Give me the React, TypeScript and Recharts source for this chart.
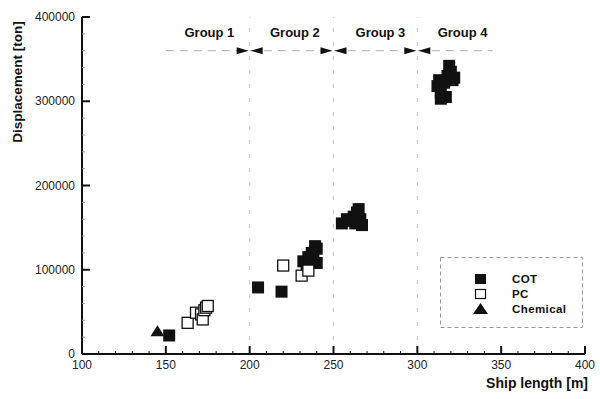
import { ScatterChart, Scatter, XAxis, YAxis, ReferenceLine, ReferenceDot } from "recharts";

const xTicks = [100, 150, 200, 250, 300, 350, 400];
const yTicks = [0, 100000, 200000, 300000, 400000];
const groupBounds = [200, 250, 300];
const groupNames = ["Group 1", "Group 2", "Group 3", "Group 4"];
const groupCenters = [176, 227, 278, 327];

// COT (crude oil tankers)
const cotLength = [152, 205, 219, 232, 234, 235, 236, 237, 238, 239, 240, 240, 255, 258, 260, 262, 263, 264, 265, 266, 267, 312, 313, 314, 316, 317, 318, 319, 320, 321, 322, 314];
const cotDisp = [22000, 79000, 74000, 110000, 104000, 115000, 108000, 120000, 112000, 128000, 125000, 108000, 155000, 160000, 158000, 163000, 155000, 168000, 172000, 160000, 153000, 318000, 325000, 310000, 322000, 305000, 330000, 342000, 335000, 325000, 328000, 303000];

// PC (product carriers)
const pcLength = [163, 168, 171, 172, 173, 174, 175, 220, 231, 235];
const pcDisp = [37000, 49000, 47000, 41000, 52000, 55000, 57000, 105000, 93000, 99000];

// Chemical tankers
const chemLength = [145];
const chemDisp = [27000];

const toPoints = (xs: number[], ys: number[]) => xs.map((x, i) => ({ x, y: ys[i] }));
const cotData = toPoints(cotLength, cotDisp);
const pcData = toPoints(pcLength, pcDisp);
const chemData = toPoints(chemLength, chemDisp);

const font = "'Liberation Sans', Arial, sans-serif";
const xMinor: number[] = [];
for (let v = 100; v <= 400; v += 10) xMinor.push(v);
const yMinor: number[] = [];
for (let v = 0; v <= 400000; v += 20000) yMinor.push(v);

const XTick = (props: any) => {
  const { x, y, payload } = props;
  const major = xTicks.includes(payload.value);
  return (
    <g>
      <line x1={x} x2={x} y1={y} y2={y - (major ? 8 : 3)} stroke="#111" strokeWidth={major ? 2 : 1} />
      {major && (
        <text x={x} y={y + 15} textAnchor="middle" fontSize={12} fill="#222" fontFamily={font}>
          {payload.value}
        </text>
      )}
    </g>
  );
};

const YTick = (props: any) => {
  const { x, y, payload } = props;
  const major = yTicks.includes(payload.value);
  return (
    <g>
      <line x1={x} x2={x + (major ? 8 : 3)} y1={y} y2={y} stroke={major ? "#111" : "#999"} strokeWidth={major ? 2 : 1} />
      {major && (
        <text x={x - 7} y={y + 4} textAnchor="end" fontSize={12} fill="#222" fontFamily={font}>
          {payload.value}
        </text>
      )}
    </g>
  );
};

const Square = (props: any) => (
  <rect x={props.cx - 6} y={props.cy - 6} width={12} height={12} fill="#111" />
);
const OpenSquare = (props: any) => (
  <rect x={props.cx - 5.5} y={props.cy - 5.5} width={11} height={11} fill="#fff" stroke="#111" strokeWidth={1.3} />
);
const Triangle = (props: any) => (
  <path d={`M${props.cx - 7},${props.cy + 5} L${props.cx},${props.cy - 6} L${props.cx + 7},${props.cy + 5} Z`} fill="#111" />
);

const Arrows = (props: any) => {
  const { cx, cy } = props;
  return (
    <g fill="#111">
      <path d={`M${cx - 13},${cy - 3.5} L${cx - 1},${cy} L${cx - 13},${cy + 3.5} Z`} />
      <path d={`M${cx + 13},${cy - 3.5} L${cx + 1},${cy} L${cx + 13},${cy + 3.5} Z`} />
    </g>
  );
};

const legendItems = [
  { name: "COT", shape: "filled" },
  { name: "PC", shape: "open" },
  { name: "Chemical", shape: "triangle" },
];

export default function App() {
  return (
    <div style={{ position: "absolute", left: 0, top: 0, width: 600, height: 399, background: "#fff", fontFamily: font }}>
      <ScatterChart width={600} height={399} margin={{ top: 17, right: 15, bottom: 0, left: 0 }}>
        <XAxis
          type="number"
          dataKey="x"
          domain={[100, 400]}
          ticks={xMinor}
          interval={0}
          tick={XTick}
          tickLine={false}
          tickSize={0}
          tickMargin={0}
          height={45}
          axisLine={{ stroke: "#111", strokeWidth: 2 }}
          label={{
            content: () => (
              <text x={588} y={388} textAnchor="end" fontSize={14} fontWeight="bold" fill="#111" fontFamily={font}>
                Ship length [m]
              </text>
            ),
          }}
        />
        <YAxis
          type="number"
          dataKey="y"
          domain={[0, 400000]}
          ticks={yMinor}
          interval={0}
          tick={YTick}
          tickLine={false}
          tickSize={0}
          tickMargin={0}
          width={82}
          axisLine={{ stroke: "#111", strokeWidth: 2 }}
          label={{
            content: () => (
              <text transform="translate(22,82) rotate(-90)" textAnchor="middle" fontSize={13.5} fontWeight="bold" fill="#111" fontFamily={font}>
                Displacement [ton]
              </text>
            ),
          }}
        />
        {groupBounds.map((b) => (
          <ReferenceLine key={b} x={b} stroke="#c4c4c4" strokeDasharray="4 10" />
        ))}
        <ReferenceLine segment={[{ x: 150, y: 360000 }, { x: 345, y: 360000 }]} stroke="#b0b0b0" strokeDasharray="8 6" />
        {groupBounds.map((b) => (
          <ReferenceDot key={"a" + b} x={b} y={360000} r={0} shape={Arrows} />
        ))}
        {groupNames.map((g, i) => (
          <ReferenceDot
            key={g}
            x={groupCenters[i]}
            y={382000}
            r={0}
            shape={(p: any) => (
              <text x={p.cx} y={p.cy + 5} textAnchor="middle" fontSize={13} fontWeight="bold" fill="#111" fontFamily={font}>
                {g}
              </text>
            )}
          />
        ))}
        <Scatter name="COT" data={cotData} shape={Square} isAnimationActive={false} />
        <Scatter name="PC" data={pcData} shape={OpenSquare} isAnimationActive={false} />
        <Scatter name="Chemical" data={chemData} shape={Triangle} isAnimationActive={false} />
      </ScatterChart>
      <svg style={{ position: "absolute", left: 440, top: 257 }} width={143} height={71}>
        <rect x={0.5} y={0.5} width={142} height={70} fill="#fff" stroke="#999" strokeDasharray="4 3" />
        {legendItems.map((it, i) => {
          const cy = [22, 37, 52][i];
          return (
            <g key={it.name}>
              {it.shape === "filled" && <rect x={35} y={cy - 5} width={11} height={10} fill="#111" />}
              {it.shape === "open" && <rect x={35.5} y={cy - 4.5} width={10} height={9} fill="#fff" stroke="#111" strokeWidth={1.2} />}
              {it.shape === "triangle" && <path d={`M${33},${cy + 5} L${40.5},${cy - 6} L${48},${cy + 5} Z`} fill="#111" />}
              <text x={72} y={cy + 4} fontSize={11.5} fontWeight="bold" letterSpacing={0.4} fill="#111" fontFamily={font}>
                {it.name}
              </text>
            </g>
          );
        })}
      </svg>
    </div>
  );
}
